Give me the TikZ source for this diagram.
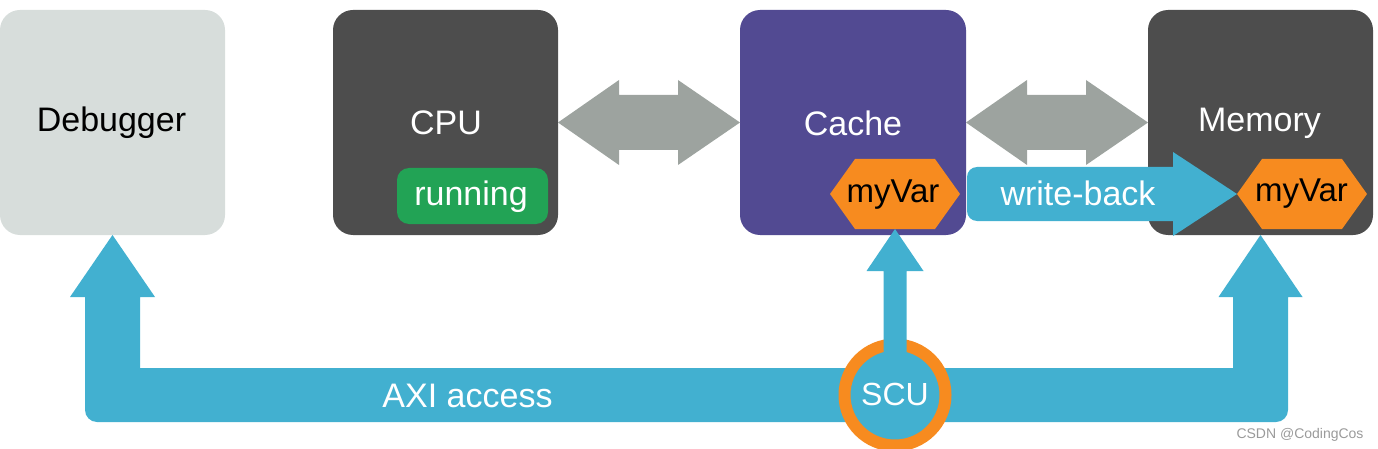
\documentclass[tikz,border=0pt]{standalone}
\usepackage{fontspec}
\setmainfont{Liberation Sans}
\usetikzlibrary{calc}
\definecolor{dbgc}{HTML}{D7DDDB}
\definecolor{darkc}{HTML}{4D4D4D}
\definecolor{purc}{HTML}{524A92}
\definecolor{greenc}{HTML}{22A355}
\definecolor{grayc}{HTML}{9DA39F}
\definecolor{bluec}{HTML}{42B0D0}
\definecolor{orangec}{HTML}{F78B1F}
\definecolor{markc}{HTML}{9A9A9A}
\newcommand\myhex[2]{%
  \fill[#2] (#1.west) -- ($(#1.north west)+(25,0)$) -- ($(#1.north east)+(-25,0)$) -- (#1.east)
    -- ($(#1.south east)+(-25,0)$) -- ($(#1.south west)+(25,0)$) -- cycle;}
\tikzset{
  box/.style={rectangle, rounded corners=20pt, minimum width=225pt, minimum height=225pt, inner sep=0pt, outer sep=0pt},
  runbox/.style={rectangle, rounded corners=12pt, minimum width=151pt, minimum height=56pt, inner sep=0pt, outer sep=0pt, fill=greenc},
  hexbox/.style={rectangle, minimum width=130pt, minimum height=70pt, inner sep=0pt, outer sep=0pt},
  lbl/.style={inner sep=0pt, outer sep=0pt, anchor=base, font=\fontsize{34}{40}\selectfont},
  varlbl/.style={lbl, text=black, font=\fontsize{33}{40}\selectfont},
  scubox/.style={circle, fill=bluec, draw=orangec, line width=12pt, minimum size=101pt, inner sep=0pt, outer sep=0pt, text=white, font=\fontsize{32}{38}\selectfont},
}
\begin{document}
\begin{tikzpicture}[x=1pt,y=-1pt]
\useasboundingbox (0,0) rectangle (1378,449);
% boxes
\node[box, fill=dbgc] (dbg) at (112.5,122.5) {};
\node[box, fill=darkc] (cpu) at (445.5,122.5) {};
\node[box, fill=purc, minimum width=226pt] (cache) at (853,122.5) {};
\node[box, fill=darkc] (mem) at (1260.5,122.5) {};
% gray double arrows
\fill[grayc] (cpu.east) -- ++(61,-42.5) -- ++(0,15) -- ($(cache.west)+(-62,-27.5)$) -- ++(0,-15)
  -- (cache.west) -- ++(-62,42.5) -- ++(0,-15) -- ($(cpu.east)+(61,27.5)$) -- ++(0,15) -- cycle;
\fill[grayc] (cache.east) -- ++(61,-42.5) -- ++(0,15) -- ($(mem.west)+(-62,-27.5)$) -- ++(0,-15)
  -- (mem.west) -- ++(-62,42.5) -- ++(0,-15) -- ($(cache.east)+(61,27.5)$) -- ++(0,15) -- cycle;
% running
\node[runbox] (run) at (472.5,196) {};
% hexagons
\node[hexbox] (cvar) at (895,194) {};
\myhex{cvar}{orangec}
\node[hexbox] (mvar) at (1302,194) {};
% write-back arrow
\coordinate (wbs) at (cache.east |- mvar.west);
\fill[bluec] (mvar.west) -- ++(-64,-42) -- ++(0,15) [rounded corners=10pt] -- ($(wbs)+(1,-27)$)
  -- ($(wbs)+(1,27)$) [sharp corners] -- ($(mvar.west)+(-64,27)$) -- ++(0,15) -- cycle;
\myhex{mvar}{orangec}
% bus
\coordinate (busc) at (895,395);
\coordinate (bt) at ($(busc)+(0,-27)$);
\coordinate (bb) at ($(busc)+(0,27)$);
\coordinate (dl) at ($(dbg.south)+(-27.5,62)$);
\coordinate (dr) at ($(dbg.south)+(27.5,62)$);
\coordinate (ml) at ($(mem.south)+(-27.5,62)$);
\coordinate (mr) at ($(mem.south)+(27.5,62)$);
\fill[bluec] (dbg.south) -- ($(dbg.south)+(42.5,62)$) -- (dr) -- (dr |- bt) -- (ml |- bt) -- (ml)
  -- ($(mem.south)+(-42,62)$) -- (mem.south) -- ($(mem.south)+(42,62)$) -- (mr)
  [rounded corners=12pt] -- (mr |- bb) -- (dl |- bb) [sharp corners] -- (dl)
  -- ($(dbg.south)+(-42.5,62)$) -- cycle;
\node[scubox] (scu) at (busc) {};
\fill[bluec] (cvar.south) -- ++(28.5,42) -- ++(-17,0) -- ($(scu.center)+(11.5,-35)$)
  -- ($(scu.center)+(-11.5,-35)$) -- ($(cvar.south)+(-11.5,42)$) -- ++(-17,0) -- cycle;
% texts
\node[lbl, text=black] (dbgt) at (111.5,132) {Debugger};
\node[lbl, text=white] (cput) at (446,135) {CPU};
\node[lbl, text=white] (cachet) at (853,136) {Cache};
\node[lbl, text=white] (memt) at (1259.5,132) {Memory};
\node[lbl, text=white] (runt) at (471,206) {running};
\node[varlbl] (cvart) at (893,203) {myVar};
\node[varlbl] (mvart) at (1301.5,202) {myVar};
\node[lbl, text=white] (wbt) at (1078,206) {write-back};
\node[lbl, text=white] (axit) at (467.5,407) {AXI access};
\node[lbl, text=white, font=\fontsize{32}{38}\selectfont] (scut) at (895,405) {SCU};
\node[lbl, text=markc, font=\fontsize{14}{16}\selectfont] (mark) at (1300,438) {CSDN @CodingCos};
\end{tikzpicture}
\end{document}
